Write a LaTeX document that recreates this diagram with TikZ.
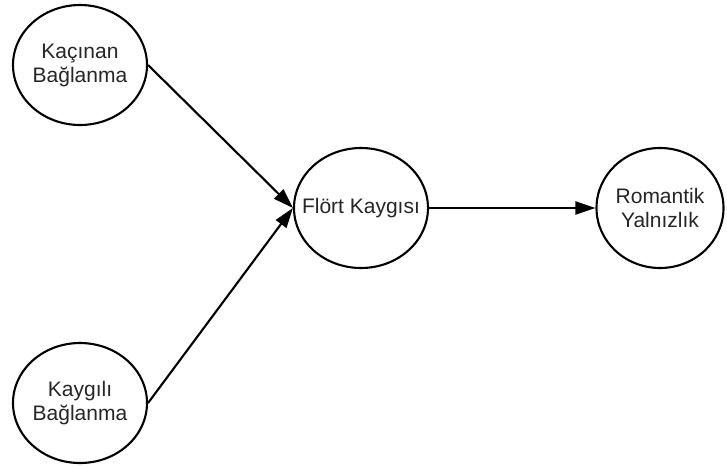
\documentclass[tikz,border=0pt]{standalone}
\usepackage{fontspec}
\setmainfont{Liberation Sans}
\usetikzlibrary{shapes.geometric,arrows.meta}
\tikzset{
  oval/.style={draw=black, line width=2.1pt, ellipse, minimum width=134pt, minimum height=120pt, inner sep=0pt},
  ovaltext/.style={align=center, font=\fontsize{21}{24}\selectfont, text=black!85, inner sep=0pt},
  conn/.style={draw=black, line width=2.1pt, -{Triangle[length=20pt,width=13pt]}}
}
\begin{document}
\begin{tikzpicture}[x=1pt,y=-1pt]
\useasboundingbox[fill=white] (0,0) rectangle (727,466);
\node[oval] (kac) at (80,65) {};
\node[ovaltext] (kact) at (kac.center) {Kaçınan\\Bağlanma};
\node[oval] (kay) at (80,403) {};
\node[ovaltext] (kayt) at (kay.center) {Kaygılı\\Bağlanma};
\node[oval] (flo) at (361,208) {};
\node[ovaltext] (flot) at (flo.center) {Flört Kaygısı};
\node[oval, minimum width=127pt] (rom) at (660,208) {};
\node[ovaltext] (romt) at (rom.center) {Romantik\\Yalnızlık};
\draw[conn] (kac.east) -- (flo.west);
\draw[conn] (kay.east) -- (flo.west);
\draw[conn] (flo.east) -- (rom.west);
\end{tikzpicture}
\end{document}
